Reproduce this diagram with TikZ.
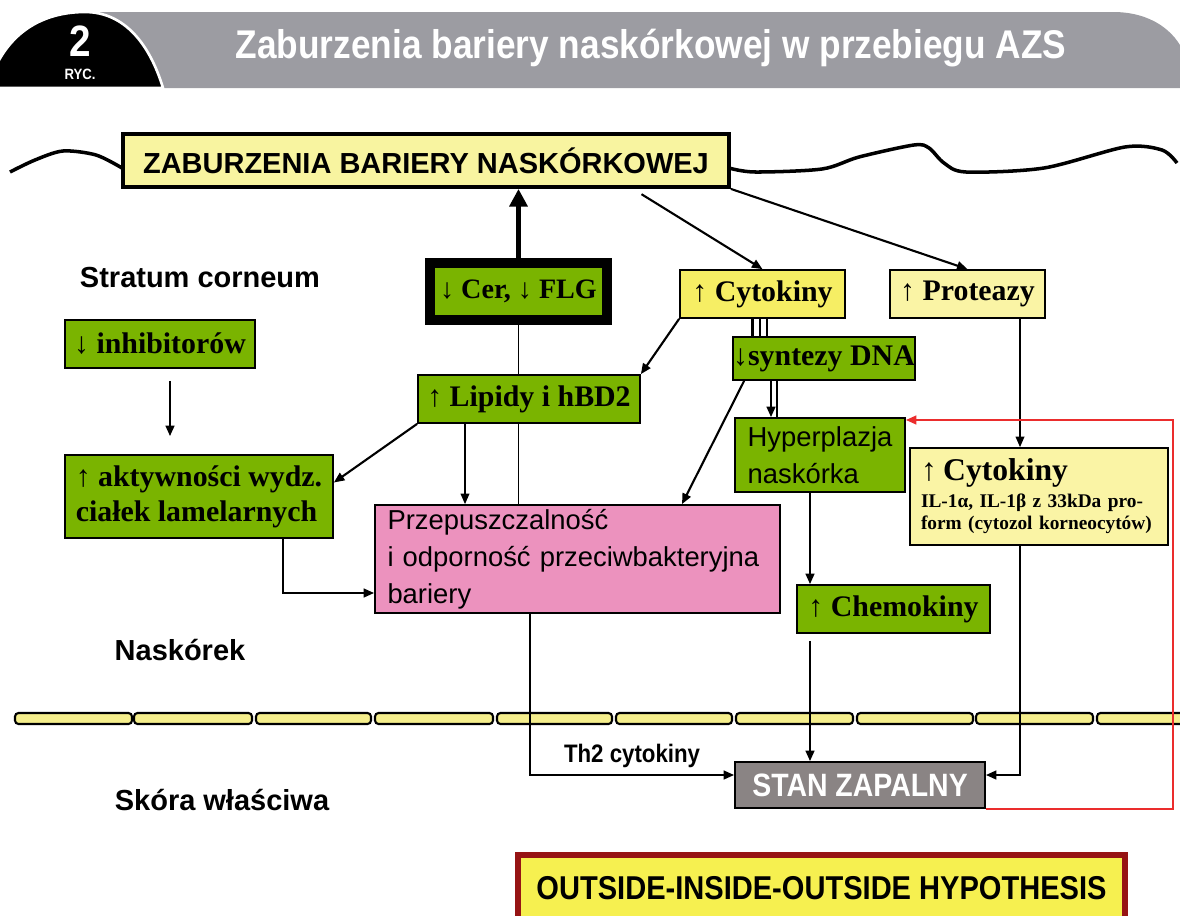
\documentclass[tikz,border=0pt]{standalone}
\usepackage{fontspec}
\setmainfont{Liberation Serif}
\setsansfont{Liberation Sans}
\newfontfamily\condsans[FakeStretch=0.88]{Liberation Sans}
\usetikzlibrary{positioning, arrows.meta, calc}

\definecolor{boxgreen}{RGB}{122,180,0}
\definecolor{mainyellow}{RGB}{248,244,160}
\definecolor{cytoyellow}{RGB}{246,238,100}
\definecolor{paleyellow}{RGB}{250,244,165}
\definecolor{pinkbox}{RGB}{236,146,190}
\definecolor{stangray}{RGB}{138,132,132}
\definecolor{hypoyellow}{RGB}{246,240,80}
\definecolor{hypored}{RGB}{150,20,20}
\definecolor{headgray}{RGB}{156,156,162}
\definecolor{membfill}{RGB}{245,238,140}
\definecolor{loopred}{RGB}{235,45,45}

\newcommand{\pxu}{0.02cm}
\newcommand{\serifbox}{\fontsize{17}{20}\selectfont\bfseries}
\newcommand{\sansbox}{\sffamily\fontsize{15.6}{21}\selectfont}
\newcommand{\sanslabel}{\sffamily\bfseries\fontsize{16.5}{19}\selectfont}

\tikzset{
  box/.style={draw, line width=1pt, inner sep=0pt, align=center},
  wh/.style 2 args={minimum width=#1*\pxu, minimum height=#2*\pxu},
  greenbox/.style={box, fill=boxgreen, font=\serifbox},
  yellowbox/.style={box, fill=paleyellow, font=\serifbox},
  layerlabel/.style={font=\sanslabel},
  link/.style={line width=1.2pt, -{Triangle[length=6pt,width=5pt]}},
  thinlink/.style={line width=0.7pt, -{Triangle[length=6pt,width=5pt]}},
}

\begin{document}
\begin{tikzpicture}[x=\pxu, y=-\pxu]
  \useasboundingbox (0,0) rectangle (1180,916);

  % Header
  \fill[headgray] (100,12) -- (1113,12) .. controls (1150,12) and (1175,30) .. (1185,55)
    -- (1185,88) -- (100,88) -- cycle;
  \filldraw[fill=black, draw=white, line width=1.5pt] (-2,88) -- (-2,62)
    .. controls (15,30) and (45,12) .. (85,12) .. controls (125,12) and (150,45) .. (163,88) -- cycle;
  \node[text=white, font=\condsans\bfseries\fontsize{25}{25}\selectfont] (fignum) at (80,41) {2};
  \node[text=white, font=\condsans\bfseries\fontsize{8.5}{9}\selectfont] (ryc) at (80,74) {RYC.};
  \node[text=white, font=\condsans\bfseries\fontsize{22.8}{24}\selectfont] (title) at (651,48)
    {Zaburzenia bariery naskórkowej w przebiegu AZS};

  % Skin surface
  \draw[line width=2pt] plot[smooth] coordinates {(10,172) (35,160) (63,151) (96,155) (122,168)};
  \draw[line width=2pt] plot[smooth] coordinates {(729,168) (755,172) (822,169) (859,157)
    (914,145) (929,148) (944,163) (966,172) (1044,168) (1125,147) (1162,150) (1177,163)};

  % Basement membrane
  \foreach \xa/\xb in {15/132, 134/252, 256/371, 375/493, 497/612, 616/732, 736/853, 857/973, 976/1093, 1097/1200}
    \draw[fill=membfill, line width=1.2pt, rounded corners=2pt] (\xa,713) rectangle (\xb,724);

  % Layer labels
  \node[layerlabel] (stratum) at (200,278) {Stratum corneum};
  \node[layerlabel] (naskorek) at (180,650) {Naskórek};
  \node[layerlabel] (skora) at (222,800) {Skóra właściwa};

  % Boxes
  \node[box, fill=mainyellow, line width=2.2pt, wh={606}{53}, font=\sanslabel] (main) at (426,160.5)
    {ZABURZENIA BARIERY NASKÓRKOWEJ};
  \node[greenbox, line width=5.5pt, wh={177}{57}, font=\fontsize{16}{19}\selectfont\bfseries] (cer)
    at (518.5,291.5) {↓ Cer, ↓ FLG};
  \node[box, fill=cytoyellow, font=\serifbox, wh={165}{48}] (cyto) at (762.5,294) {↑ Cytokiny};
  \node[yellowbox, wh={155}{48}] (prot) at (967.5,294) {↑ Proteazy};
  \node[greenbox, wh={190}{48}] (inhib) at (160,344) {↓ inhibitorów};
  \node[greenbox, wh={222}{48}] (lipid) at (529,399) {↑ Lipidy i hBD2};
  \node[greenbox, wh={182}{43}] (synt) at (824,358.5) {↓syntezy DNA};
  \node[box, fill=boxgreen, font=\sansbox, wh={170}{74}, align=left] (hyper)
    at (820,455) {Hyperplazja\\naskórka};
  \node[box, fill=paleyellow, wh={258}{97}, align=left, text width=236*\pxu,
    font=\fontsize{11}{13}\selectfont\bfseries] (cyt2) at (1039,496.5)
    {{\fontsize{18}{20}\selectfont ↑ Cytokiny}\\[2pt]
     IL-1α, IL-1β z 33kDa pro-\\form (cytozol korneocytów)};
  \node[greenbox, wh={268}{83}, align=left] (akt) at (199,496.5)
    {↑ aktywności wydz.\\ciałek lamelarnych};
  \node[box, fill=pinkbox, font=\sansbox, wh={405}{108}, align=left, text width=380*\pxu] (przep)
    at (577.5,559) {Przepuszczalność\\i odporność przeciwbakteryjna\\bariery};
  \node[greenbox, wh={193}{48}] (chemo) at (893.5,609) {↑ Chemokiny};
  \node[box, fill=stangray, text=white, wh={250}{46},
    font=\condsans\bfseries\fontsize{18.4}{20}\selectfont] (stan) at (860,785) {STAN ZAPALNY};
  \node[box, fill=hypoyellow, draw=hypored, line width=3.4pt, wh={607}{66},
    font=\condsans\bfseries\fontsize{18.8}{20}\selectfont] (hypo) at (821.5,888)
    {OUTSIDE-INSIDE-OUTSIDE HYPOTHESIS};

  % Connectors
  \draw[line width=3pt, -{Triangle[length=10pt,width=10pt]}] (cer.north) -- (cer.north |- main.south);
  \draw[link, shorten <=10*\pxu] ([xshift=207*\pxu]main.south) -- (cyto.north);
  \draw[link] (main.south east) -- (prot.north);
  \draw[link] (cyto.south west) -- (lipid.north east);
  \foreach \dx in {-10,-2.5,4.5}
    \draw[line width=1.2pt] ([xshift=\dx*\pxu]cyto.south) -- ([xshift=\dx*\pxu]cyto.south |- synt.north);
  \draw[link] ([xshift=-53*\pxu]synt.south) -- ([xshift=-53*\pxu]synt.south |- hyper.north);
  \draw[line width=1.2pt] ([xshift=-47*\pxu]synt.south) -- ([xshift=-47*\pxu]synt.south |- hyper.north);
  \draw[link] ([xshift=12*\pxu]synt.south west) -- ([xshift=104.5*\pxu]przep.north);
  \draw[link] (lipid.south west) -- ([yshift=14*\pxu]akt.east);
  \draw[thinlink] ([xshift=-64*\pxu]lipid.south) -- ([xshift=-64*\pxu]lipid.south |- przep.north);
  \draw[line width=0.7pt] (cer.south) -- (lipid.north -| cer.south);
  \draw[line width=0.7pt] (lipid.south -| cer.south) -- (przep.north -| cer.south);
  \draw[link, shorten <=12*\pxu, shorten >=18*\pxu] ([xshift=10*\pxu]inhib.south) -- ([xshift=10*\pxu]inhib.south |- akt.north);
  \draw[link] ([xshift=84*\pxu]akt.south) |- ([yshift=-34*\pxu]przep.west);
  \draw[link] ([xshift=-10*\pxu]hyper.south) -- ([xshift=-10*\pxu]hyper.south |- chemo.north);
  \draw[link, shorten <=7*\pxu] ([xshift=-83.5*\pxu]chemo.south) -- ([xshift=-50*\pxu]stan.north);
  \draw[link] ([xshift=-47.5*\pxu]przep.south) |- node[pos=0.75, above, font=\condsans\bfseries\fontsize{14.4}{16}\selectfont] {Th2 cytokiny} ([yshift=10*\pxu]stan.west);
  \draw[thinlink] ([xshift=52.5*\pxu]prot.south) -- ([xshift=52.5*\pxu]prot.south |- cyt2.north);
  \draw[link] ([xshift=-19*\pxu]cyt2.south) |- ([yshift=10*\pxu]stan.east);
  \draw[link, draw=loopred, line width=1.2pt] (stan.south east) -- ++(187,0) |- ([yshift=35*\pxu]hyper.east);
\end{tikzpicture}
\end{document}
